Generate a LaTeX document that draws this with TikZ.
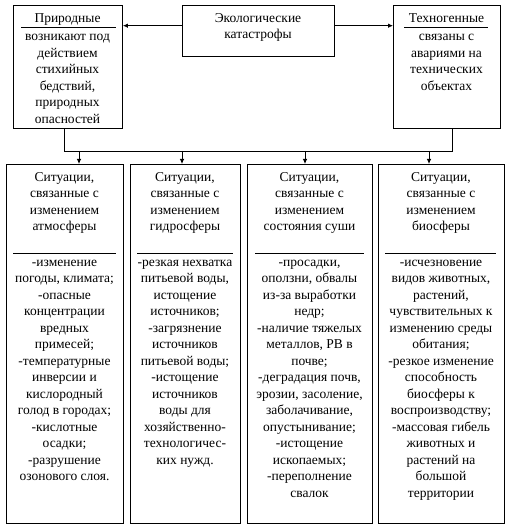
\documentclass[tikz,border=0pt]{standalone}
\usepackage{fontspec}
\setmainfont{Liberation Serif}
\usetikzlibrary{arrows.meta}
\begin{document}
\begin{tikzpicture}[x=1pt,y=-1pt,
  box/.style={draw, line width=0.9pt, inner sep=0pt, anchor=north west},
  txt/.style={align=center, inner sep=0pt, anchor=north, font=\fontsize{13.5}{16.5}\selectfont},
  arr/.style={-{Latex[length=5pt,width=4.5pt]}, line width=0.8pt},
  ln/.style={line width=0.8pt}]
\useasboundingbox (0,0) rectangle (510,529);
% top boxes
\node[box, minimum width=109pt, minimum height=123pt] (p) at (13,5) {};
\node[box, minimum width=152pt, minimum height=51pt] (c) at (182,5) {};
\node[box, minimum width=107pt, minimum height=123pt] (t) at (393,5) {};
% bottom boxes
\node[box, minimum width=117pt, minimum height=359pt] (b1) at (6,164) {};
\node[box, minimum width=110pt, minimum height=359pt] (b2) at (130,164) {};
\node[box, minimum width=125pt, minimum height=359pt] (b3) at (247,164) {};
\node[box, minimum width=126pt, minimum height=359pt] (b4) at (378,164) {};
% top texts
\node[txt] (pt) at (67.5,10.5) {\strut Природные};
\draw[ln] (21,27) -- (116,27);
\node[txt] (pb) at (67.5,29) {\strut возникают под\\действием\\стихийных\\бедствий,\\природных\\опасностей};
\node[txt] (ct) at (258,10.5) {\strut Экологические\\катастрофы};
\node[txt] (tt) at (446.5,10.5) {\strut Техногенные};
\draw[ln] (404,27) -- (488,27);
\node[txt] (tb) at (446.5,29) {\strut связаны с\\авариями на\\технических\\объектах};
% bottom texts
\node[txt] (h1) at (64.5,169.5) {\strut Ситуации,\\связанные с\\изменением\\атмосферы};
\node[txt] (h2) at (185,169.5) {\strut Ситуации,\\связанные с\\изменением\\гидросферы};
\node[txt] (h3) at (309.5,169.5) {\strut Ситуации,\\связанные с\\изменением\\состояния суши};
\node[txt] (h4) at (441,169.5) {\strut Ситуации,\\связанные с\\изменением\\биосферы};
\draw[ln] (13,253) -- (116,253);
\draw[ln] (137,253) -- (233,253);
\draw[ln] (255,253) -- (364,253);
\draw[ln] (385,253) -- (496,253);
\node[txt] (d1) at (64.5,254.5) {\strut -изменение\\погоды, климата;\\-опасные\\концентрации\\вредных\\примесей;\\-температурные\\инверсии и\\кислородный\\голод в городах;\\-кислотные\\осадки;\\-разрушение\\озонового слоя.};
\node[txt] (d2) at (185,254.5) {\strut -резкая нехватка\\питьевой воды,\\истощение\\источников;\\-загрязнение\\источников\\питьевой воды;\\-истощение\\источников\\воды для\\хозяйственно-\\технологичес-\\ких нужд.};
\node[txt] (d3) at (309.5,254.5) {\strut -просадки,\\оползни, обвалы\\из-за выработки\\недр;\\-наличие тяжелых\\металлов, РВ в\\почве;\\-деградация почв,\\эрозии, засоление,\\заболачивание,\\опустынивание;\\-истощение\\ископаемых;\\-переполнение\\свалок};
\node[txt] (d4) at (441,254.5) {\strut -исчезновение\\видов животных,\\растений,\\чувствительных к\\изменению среды\\обитания;\\-резкое изменение\\способность\\биосферы к\\воспроизводству;\\-массовая гибель\\животных и\\растений на\\большой\\территории};
% connectors
\coordinate (ay) at (0,25.7);
\draw[arr] (c.west |- ay) -- (p.east |- ay);
\draw[arr] (c.east |- ay) -- (t.west |- ay);
\coordinate (bl) at (64,151);
\coordinate (br) at (452,151);
\draw[ln] (p.south -| bl) -- (bl) -- (br) -- (t.south -| br);
\coordinate (j1) at (79,151);
\coordinate (j2) at (182,151);
\coordinate (j3) at (305,151);
\coordinate (j4) at (429,151);
\draw[arr] (j1) -- (j1 |- b1.north);
\draw[arr] (j2) -- (j2 |- b2.north);
\draw[arr] (j3) -- (j3 |- b3.north);
\draw[arr] (j4) -- (j4 |- b4.north);
\end{tikzpicture}
\end{document}
